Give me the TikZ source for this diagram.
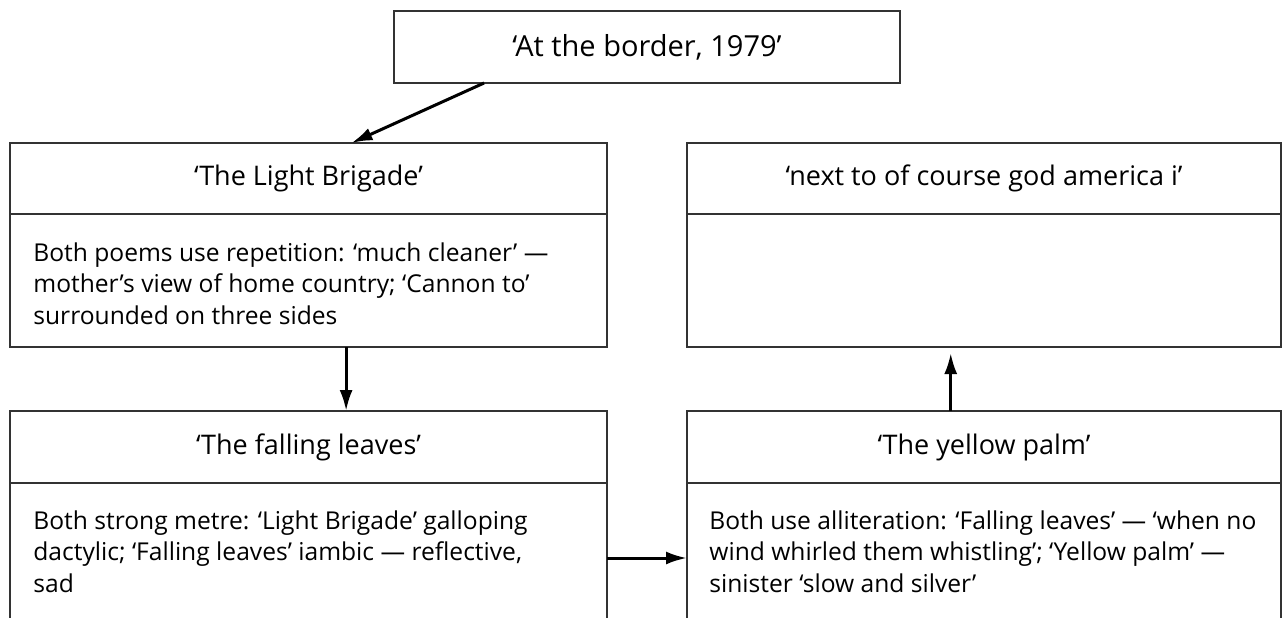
\documentclass[tikz,border=0pt]{standalone}
\usepackage{fontspec}
\setmainfont{Open Sans}
\usetikzlibrary{arrows.meta,calc}
\begin{document}
\begin{tikzpicture}[x=0.5pt,y=-0.5pt,
  box/.style={draw=black!80,line width=0.8pt,rectangle,inner sep=0pt,outer sep=0pt,anchor=north west},
  headtext/.style={font=\fontsize{13.5}{16}\selectfont},
  bodytext/.style={font=\fontsize{12.3}{15.8}\selectfont,align=left,inner sep=0pt,anchor=north west},
  conn/.style={line width=1.5pt,-{Latex[length=10.5pt,width=6.5pt]}}]
\useasboundingbox (0,0) rectangle (1284,617);
\clip (0,0) rectangle (1284,617);
\fill[white] (0,0) rectangle (1284,617);
% top
\node[box,font=\fontsize{14.5}{17}\selectfont,minimum width=253pt,minimum height=36pt] (top) at (394,11) {‘At the border, 1979’};
% Light Brigade
\node[box,headtext,minimum width=298.5pt,minimum height=35.5pt] (lbh) at (10,143) {‘The Light Brigade’};
\node[box,minimum width=298.5pt,minimum height=66.5pt] (lbb) at (10,214) {};
\node[bodytext] (lbt) at ($(lbb.north west)+(23,28)$) {Both poems use repetition: ‘much cleaner’ —\\mother’s view of home country; ‘Cannon to’\\surrounded on three sides};
% next to of course
\node[box,headtext,minimum width=297pt,minimum height=35.5pt] (nah) at (687,143) {‘next to of course god america i’};
\node[box,minimum width=297pt,minimum height=66.5pt] (nab) at (687,214) {};
% falling leaves
\node[box,headtext,minimum width=298.5pt,minimum height=36pt] (flh) at (10,411) {‘The falling leaves’};
\node[box,minimum width=298.5pt,minimum height=68pt] (flb) at (10,483) {};
\node[bodytext] (flt) at ($(flb.north west)+(23,27)$) {Both strong metre: ‘Light Brigade’ galloping\\dactylic; ‘Falling leaves’ iambic — reflective,\\sad};
% yellow palm
\node[box,headtext,minimum width=297pt,minimum height=36pt] (yph) at (687,411) {‘The yellow palm’};
\node[box,minimum width=297pt,minimum height=68pt] (ypb) at (687,483) {};
\node[bodytext] (ypt) at ($(ypb.north west)+(22,27)$) {Both use alliteration: ‘Falling leaves’ — ‘when no\\wind whirled them whistling’; ‘Yellow palm’ —\\sinister ‘slow and silver’};
% connectors
\draw[conn] ($(top.south west)!0.178!(top.south east)$) -- ($(lbh.north west)!0.572!(lbh.north east)$);
\draw[conn] ($(lbb.south west)!0.563!(lbb.south east)$) -- ($(flh.north west)!0.563!(flh.north east)$);
\coordinate (hy) at ($(flb.north east)+(0,75)$);
\draw[conn] (hy) -- (hy -| ypb.west);
\draw[conn,shorten >=3pt] ($(yph.north west)!0.444!(yph.north east)$) -- ($(nab.south west)!0.444!(nab.south east)$);
\end{tikzpicture}
\end{document}
